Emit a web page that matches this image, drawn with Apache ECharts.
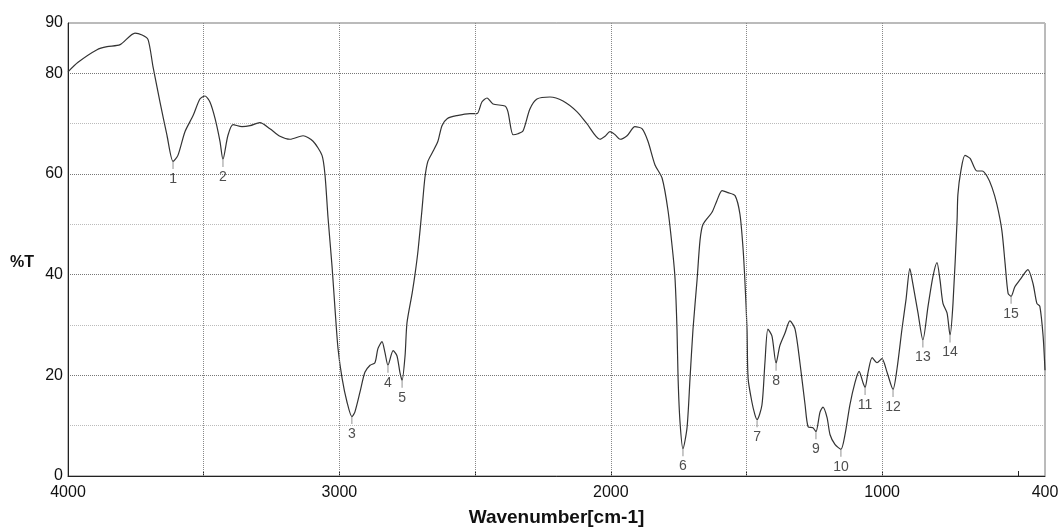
<!DOCTYPE html>
<html>
<head>
<meta charset="utf-8">
<script src="https://cdn.jsdelivr.net/npm/echarts@6/dist/echarts.min.js"></script>
<style>
  html, body { margin: 0; padding: 0; background: #fff; }
  #chart { width: 1062px; height: 532px; }
</style>
</head>
<body>
<div id="chart"></div>
<script>
// Spectrum trace (wavenumber cm-1, %T)
const wavenumbers = [4000,3963,3893,3856,3808,3753,3727,3705,3687,3661,3635,3613,3595,3569,3539,3514,3495,3477,3458,3440,3429,3411,3392,3359,3329,3293,3256,3219,3182,3134,3097,3064,3053,3042,3027,3016,3005,2990,2972,2954,2943,2924,2906,2887,2869,2858,2843,2832,2821,2802,2788,2777,2769,2758,2751,2732,2721,2710,2696,2685,2674,2655,2637,2622,2603,2567,2519,2493,2475,2456,2434,2390,2379,2360,2342,2323,2298,2272,2224,2176,2125,2088,2040,2021,2003,1984,1966,1940,1911,1885,1863,1837,1811,1789,1771,1763,1756,1752,1745,1734,1719,1708,1697,1682,1671,1660,1627,1609,1590,1568,1542,1524,1513,1506,1498,1494,1480,1469,1461,1443,1432,1421,1406,1391,1377,1358,1340,1321,1303,1284,1273,1255,1244,1229,1218,1203,1192,1174,1152,1137,1119,1100,1085,1071,1063,1052,1037,1019,1001,982,960,945,927,912,898,887,868,850,831,813,798,787,776,761,750,739,724,721,710,695,676,651,632,614,595,577,559,547,536,525,511,492,463,444,430,419,407,400];
const transmittance = [80.3,82.2,84.7,85.3,85.7,88.0,87.6,86.7,81.4,74.3,67.6,62.5,63.7,68.4,71.6,74.9,75.5,74.3,71.0,66.5,62.9,67.6,69.8,69.4,69.6,70.2,69.0,67.5,66.9,67.6,66.5,63.7,59.8,51.4,41.6,33.1,25.3,19.4,14.7,11.8,12.7,16.7,20.6,22.0,22.5,25.3,26.7,24.5,22.0,24.9,23.9,20.6,19.0,23.9,30.4,36.3,40.2,44.9,52.7,59.2,62.5,64.5,66.5,69.6,71.0,71.6,72.0,72.0,74.3,75.1,73.9,73.5,72.4,67.8,68.0,68.6,72.9,74.9,75.3,74.5,72.4,70.0,66.9,67.5,68.4,67.8,66.9,67.6,69.4,69.0,66.5,61.8,59.2,52.7,44.1,39.0,29.2,19.4,10.8,5.4,9.6,19.4,29.2,39.0,46.9,50.0,52.4,54.7,56.7,56.3,55.7,52.0,45.5,39.0,29.2,19.4,14.7,12.2,11.2,14.1,22.5,29.2,27.8,22.4,25.9,28.4,30.8,29.2,22.5,14.1,9.8,9.6,8.8,12.7,13.7,11.6,8.2,6.3,5.3,8.2,14.1,18.6,20.8,18.6,17.6,20.6,23.5,22.5,23.3,20.6,17.2,21.4,29.2,35.1,41.2,38.2,32.4,27.0,33.7,39.6,42.4,39.0,34.3,32.4,28.0,34.3,50.8,55.9,60.6,63.7,63.1,60.6,60.6,59.6,57.3,53.9,48.8,42.2,36.3,35.7,37.6,39.0,41.0,38.2,34.3,33.7,27.8,21.0];

// Numbered peaks
const peakLabels = ['1','2','3','4','5','6','7','8','9','10','11','12','13','14','15'];
const peakWavenumbers = [3613,3429,2954,2821,2769,1734,1461,1391,1244,1152,1063,960,850,750,525];
const peakTransmittance = [62.5,62.9,11.8,22.0,19.0,5.4,11.2,22.4,8.8,5.3,17.6,17.2,27.0,28.0,35.7];

// Axes
const xLabelValues = [4000,3000,2000,1000,400];
const xTickValues = [3500,3000,2500,2000,1500,1000,500];
const xGridValues = [3500,3000,2500,2000,1500,1000];
const yLabelValues = [0,20,40,60,80,90];

const chart = echarts.init(document.getElementById('chart'), null, {renderer: 'canvas'});
const font = 'Liberation Sans, Arial, sans-serif';

chart.setOption({
  animation: false,
  backgroundColor: '#fff',
  grid: {left: 68, right: 17, top: 23, bottom: 50, show: true, borderColor: '#777', borderWidth: 1},
  xAxis: {
    type: 'value', min: 400, max: 4000, inverse: true,
    name: 'Wavenumber[cm-1]', nameLocation: 'middle', nameGap: 32,
    nameTextStyle: {fontFamily: font, fontWeight: 'bold', fontSize: 19, color: '#111'},
    axisLine: {show: true, lineStyle: {color: '#222', width: 1}},
    axisTick: {show: true, inside: true, length: 5, customValues: xTickValues, lineStyle: {color: '#222'}},
    axisLabel: {customValues: xLabelValues, margin: 9, fontFamily: font, fontSize: 16, color: '#111',
      formatter: v => String(v)},
    splitLine: {show: false}
  },
  yAxis: {
    type: 'value', min: 0, max: 90, interval: 10,
    axisLine: {show: true, lineStyle: {color: '#222', width: 1}},
    axisTick: {show: false},
    axisLabel: {
      margin: 5, fontFamily: font, fontSize: 16, color: '#111',
      formatter: v => yLabelValues.indexOf(v) >= 0 ? String(v) : ''
    },
    splitLine: {show: true, lineStyle: {type: 'dotted', color: ['#777', '#bbb'], width: 1}}
  },
  graphic: [{
    type: 'text', left: 10, top: 255,
    style: {text: '%T', fontFamily: font, fontWeight: 'bold', fontSize: 16, fill: '#111'}
  }],
  series: [
    {
      type: 'line',
      data: wavenumbers.map((w, i) => [w, transmittance[i]]),
      showSymbol: false, symbol: 'none', smooth: 0.25,
      lineStyle: {color: '#333', width: 1.2},
      z: 3,
      markLine: {
        silent: true, symbol: ['none', 'none'], label: {show: false},
        lineStyle: {type: 'dotted', color: '#888', width: 1},
        data: xGridValues.map(v => ({xAxis: v}))
      }
    },
    {
      type: 'scatter',
      data: peakWavenumbers.map((w, i) => ({value: [w, peakTransmittance[i]], name: peakLabels[i]})),
      symbol: 'rect', symbolSize: [1, 7], symbolOffset: [0, 4],
      itemStyle: {color: '#777'},
      label: {show: true, position: 'bottom', distance: 3, formatter: p => p.name,
        fontFamily: font, fontSize: 14, color: '#222'},
      z: 4
    }
  ]
});
</script>
</body>
</html>
